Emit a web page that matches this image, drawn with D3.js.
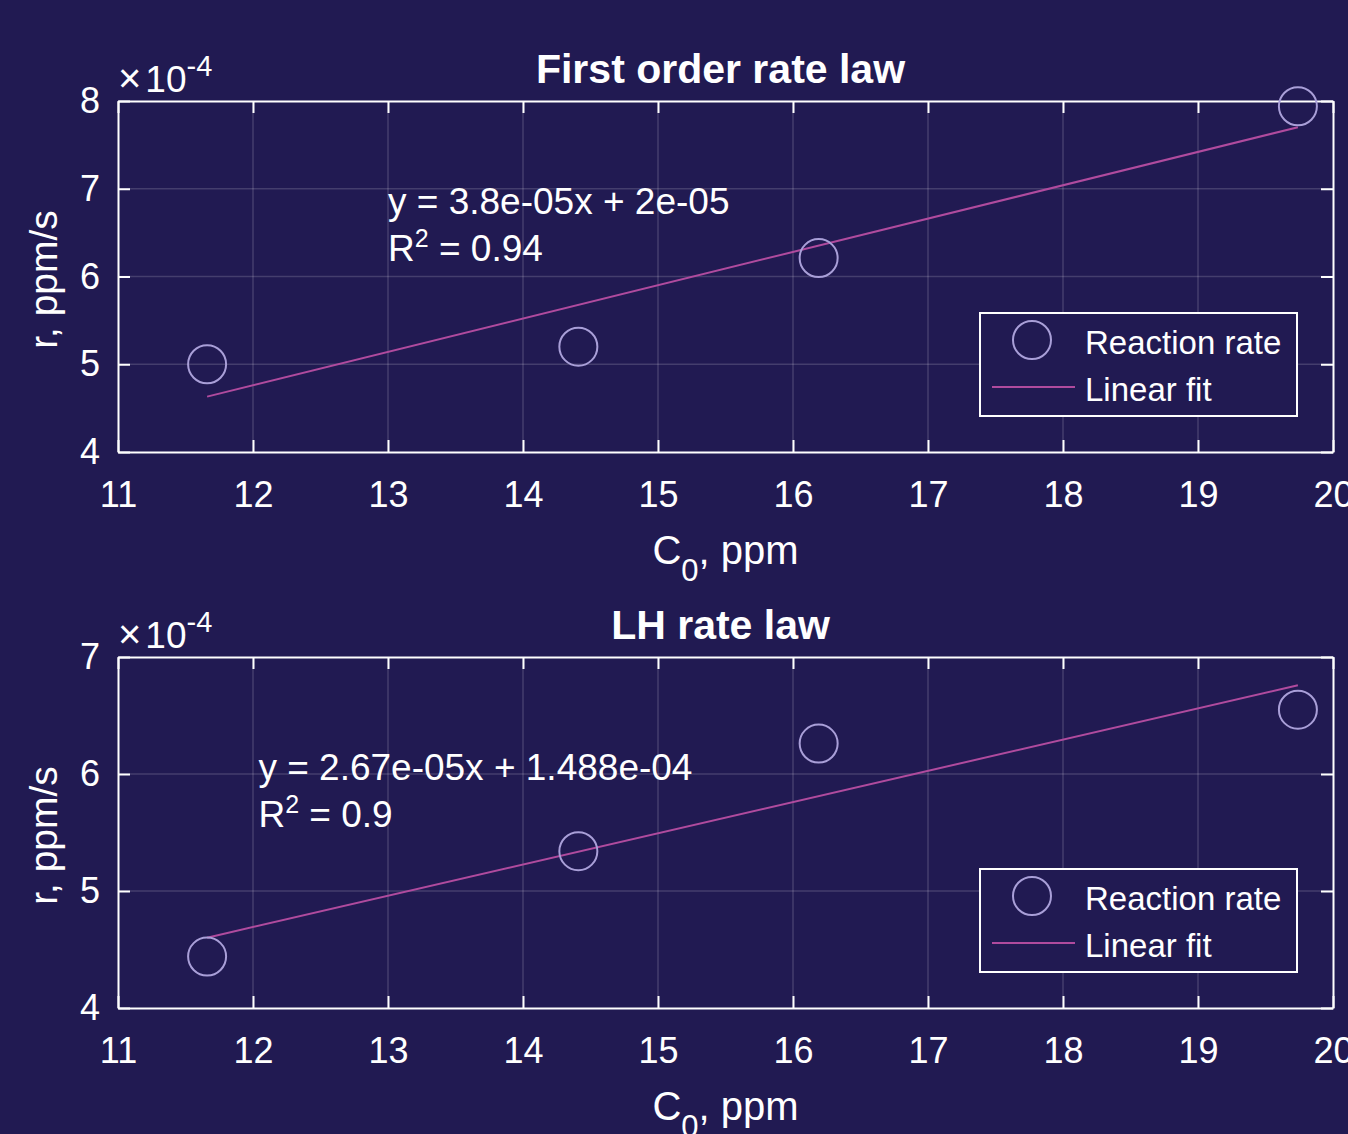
<!DOCTYPE html>
<html>
<head>
<meta charset="utf-8">
<script src="https://cdn.jsdelivr.net/npm/d3@7"></script>
<style>
  html, body { margin: 0; padding: 0; background: #211a52; overflow: hidden; }
  svg { display: block; font-family: "Liberation Sans", Arial, sans-serif; }
</style>
</head>
<body>
<svg id="chart"></svg>
<script>
// values, rates in units of 1e-4 ppm/s
const concentrations = [11.66, 14.41, 16.19, 19.74];
const firstOrderRates = [5.0, 5.2, 6.21, 7.94];
const lhRates = [4.44, 5.34, 6.26, 6.55];
const fitSlopes = [3.8e-5, 2.67e-5];
const fitIntercepts = [2e-5, 1.488e-4];
const fitTexts = ['y = 3.8e-05x + 2e-05', 'y = 2.67e-05x + 1.488e-04'];
const r2Texts = ['0.94', '0.9'];
const titles = ['First order rate law', 'LH rate law'];
const yDomains = [[4, 8], [4, 7]];
const xTicks = [11, 12, 13, 14, 15, 16, 17, 18, 19, 20];
const yTicks = [[4, 5, 6, 7, 8], [4, 5, 6, 7]];
const annotationAt = [[13, 6.5], [12.04, 5.79]];
const legendLabels = ['Reaction rate', 'Linear fit'];

const width = 1348, height = 1134;
const panels = [
  {top: 101, bottom: 452, rates: firstOrderRates},
  {top: 657, bottom: 1008, rates: lhRates}
];
const left = 118, right = 1333;
const colors = {bg: '#211a52', axis: '#ffffff', grid: 'rgba(255,255,255,0.16)',
  marker: '#a99fd8', fit: '#b04b9e'};

const svg = d3.select('#chart').attr('width', width).attr('height', height);
svg.append('rect').attr('width', width).attr('height', height).attr('fill', colors.bg);

panels.forEach((p, i) => {
  const x = d3.scaleLinear().domain([11, 20]).range([left, right]);
  const y = d3.scaleLinear().domain(yDomains[i]).range([p.bottom, p.top]);
  const g = svg.append('g');

  // grid
  g.append('g').selectAll('line').data(xTicks.slice(1, -1)).join('line')
    .attr('x1', d => x(d)).attr('x2', d => x(d))
    .attr('y1', p.top).attr('y2', p.bottom)
    .attr('stroke', colors.grid).attr('stroke-width', 1.5);
  g.append('g').selectAll('line').data(yTicks[i].slice(1, -1)).join('line')
    .attr('y1', d => y(d)).attr('y2', d => y(d))
    .attr('x1', left).attr('x2', right)
    .attr('stroke', colors.grid).attr('stroke-width', 1.5);

  // axes with inward ticks on all four sides
  const tickLen = 12;
  const styleAxis = sel => {
    sel.select('.domain').attr('stroke', colors.axis).attr('stroke-width', 2);
    sel.selectAll('.tick line').attr('stroke', colors.axis).attr('stroke-width', 2);
    sel.selectAll('.tick text').attr('fill', colors.axis).attr('font-size', 36);
  };
  g.append('g').attr('transform', `translate(0,${p.bottom})`)
    .call(d3.axisBottom(x).tickValues(xTicks).tickSizeInner(-tickLen).tickSizeOuter(0).tickPadding(29))
    .call(styleAxis);
  g.append('g').attr('transform', `translate(0,${p.top})`)
    .call(d3.axisTop(x).tickValues(xTicks).tickSizeInner(-tickLen).tickSizeOuter(0).tickFormat(''))
    .call(styleAxis);
  g.append('g').attr('transform', `translate(${left},0)`)
    .call(d3.axisLeft(y).tickValues(yTicks[i]).tickFormat(d3.format('d'))
      .tickSizeInner(-tickLen).tickSizeOuter(0).tickPadding(18))
    .call(styleAxis);
  g.append('g').attr('transform', `translate(${right},0)`)
    .call(d3.axisRight(y).tickValues(yTicks[i]).tickSizeInner(-tickLen).tickSizeOuter(0).tickFormat(''))
    .call(styleAxis);

  // exponent label
  const expo = g.append('text').attr('x', left).attr('y', p.top - 9)
    .attr('fill', colors.axis).attr('font-size', 37);
  expo.append('tspan').text('\u00d7').attr('font-size', 40);
  expo.append('tspan').text('10').attr('dx', 4);
  expo.append('tspan').text('-4').attr('font-size', 29).attr('dy', -16);

  // title
  g.append('text').attr('x', (left + right) / 2 - 5).attr('y', p.top - 18)
    .attr('text-anchor', 'middle').attr('font-weight', 'bold').attr('font-size', 41)
    .attr('fill', colors.axis).text(titles[i]);

  // x label
  const xl = g.append('text').attr('x', (left + right) / 2).attr('y', p.bottom + 112)
    .attr('text-anchor', 'middle').attr('font-size', 40).attr('fill', colors.axis);
  xl.append('tspan').text('C');
  xl.append('tspan').text('0').attr('font-size', 31).attr('dy', 17);
  xl.append('tspan').text(', ppm').attr('dy', -17);

  // y label
  g.append('text')
    .attr('transform', `translate(57,${(p.top + p.bottom) / 2 + 3}) rotate(-90)`)
    .attr('text-anchor', 'middle').attr('font-size', 39).attr('fill', colors.axis)
    .text('r, ppm/s');

  // fit line
  const xs = d3.extent(concentrations);
  const fit = xv => (fitSlopes[i] * xv + fitIntercepts[i]) / 1e-4;
  g.append('path')
    .attr('d', d3.line().x(d => x(d)).y(d => y(fit(d)))(xs))
    .attr('fill', 'none').attr('stroke', colors.fit).attr('stroke-width', 2);

  // data markers
  g.append('g').selectAll('circle').data(concentrations).join('circle')
    .attr('cx', d => x(d)).attr('cy', (d, j) => y(p.rates[j]))
    .attr('r', 19).attr('fill', 'none').attr('stroke', colors.marker).attr('stroke-width', 2);

  // annotation
  const [ax, ay] = annotationAt[i];
  g.append('text').attr('x', x(ax)).attr('y', y(ay) - 19)
    .attr('font-size', 37).attr('fill', colors.axis).text(fitTexts[i]);
  const l2 = g.append('text').attr('x', x(ax)).attr('y', y(ay) + 28)
    .attr('font-size', 37).attr('fill', colors.axis);
  l2.append('tspan').text('R');
  l2.append('tspan').text('2').attr('font-size', 25).attr('dy', -14);
  l2.append('tspan').text(' = ' + r2Texts[i]).attr('dy', 14);

  // legend
  const lx = 980, ly = p.bottom - 139, lw = 317, lh = 103;
  const lg = g.append('g').attr('transform', `translate(${lx},${ly})`);
  lg.append('rect').attr('width', lw).attr('height', lh)
    .attr('fill', colors.bg).attr('stroke', colors.axis).attr('stroke-width', 2);
  lg.append('circle').attr('cx', 52).attr('cy', 27).attr('r', 19)
    .attr('fill', 'none').attr('stroke', colors.marker).attr('stroke-width', 2);
  lg.append('line').attr('x1', 12).attr('x2', 95).attr('y1', 74).attr('y2', 74)
    .attr('stroke', colors.fit).attr('stroke-width', 2);
  lg.selectAll('text.leg').data(legendLabels).join('text').attr('class', 'leg')
    .attr('x', 105).attr('y', (d, j) => 41 + j * 47)
    .attr('font-size', 33).attr('fill', colors.axis).text(d => d);
});
</script>
</body>
</html>
